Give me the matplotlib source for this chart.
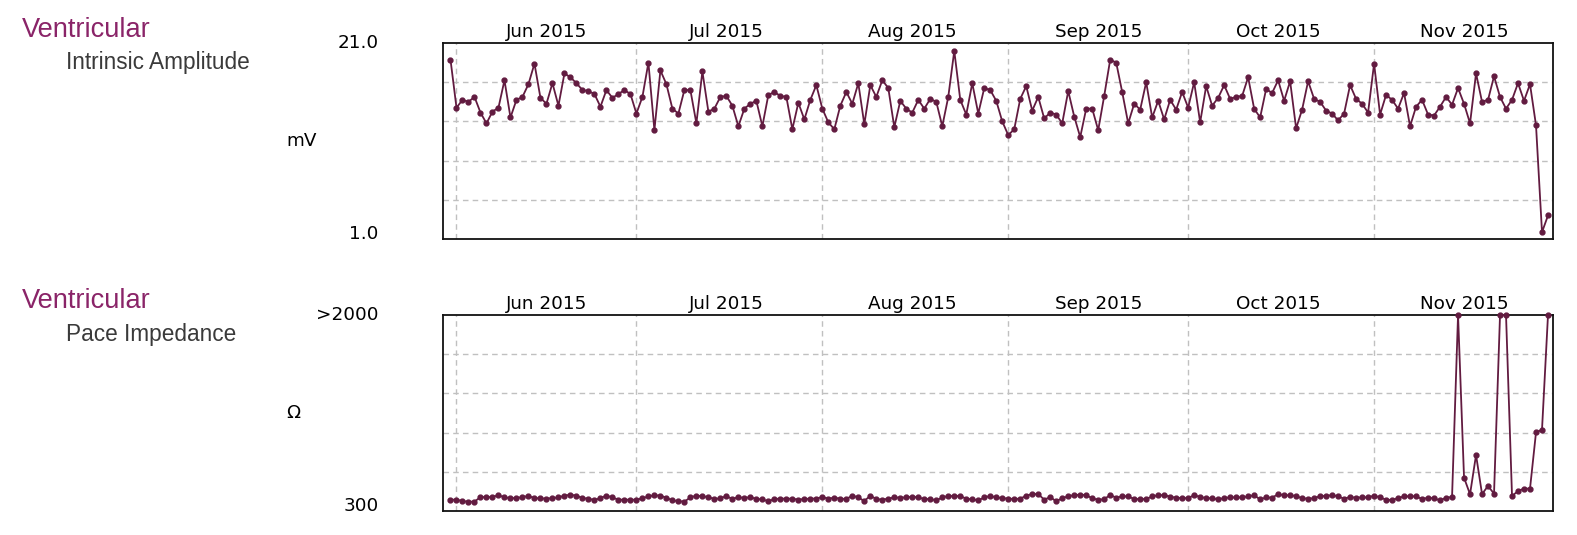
# lead trend charts: ventricular amplitude and impedance

import numpy as np
import pandas as pd
import matplotlib
matplotlib.use('Agg')
import matplotlib.pyplot as plt
import matplotlib.dates as mdates

# daily readings, first reading on 31 May 2015
start_day = '2015-05-31'

amplitude_mv = [
    19.3, 14.4, 15.2, 15.0, 15.5, 13.9, 12.8, 14.0, 14.4, 17.2,
    13.4, 15.2, 15.5, 16.8, 18.9, 15.4, 14.8, 16.9, 14.6, 17.9,
    17.5, 16.9, 16.2, 16.1, 15.8, 14.5, 16.2, 15.4, 15.8, 16.2,
    15.8, 13.8, 15.5, 19.0, 12.1, 18.2, 16.8, 14.3, 13.8, 16.2,
    16.2, 12.8, 18.1, 14.0, 14.3, 15.5, 15.6, 14.6, 12.5, 14.3,
    14.8, 15.1, 12.5, 15.7, 16.0, 15.6, 15.5, 12.2, 14.9, 13.2,
    15.2, 16.7, 14.3, 12.9, 12.2, 14.6, 16.0, 14.8, 16.9, 12.7,
    16.7, 15.5, 17.2, 16.4, 12.4, 15.1, 14.3, 13.9, 15.2, 14.3,
    15.3, 15.0, 12.5, 15.5, 20.2, 15.2, 13.7, 16.9, 13.8, 16.4,
    16.2, 15.1, 13.0, 11.6, 12.2, 15.3, 16.6, 14.1, 15.5, 13.3,
    13.9, 13.7, 12.8, 16.1, 13.5, 11.4, 14.3, 14.3, 12.1, 15.6,
    19.3, 19.0, 16.0, 12.8, 14.8, 14.2, 17.0, 13.4, 15.1, 13.2,
    15.2, 14.2, 16.0, 14.4, 17.0, 12.9, 16.6, 14.6, 15.4, 16.7,
    15.3, 15.5, 15.6, 17.5, 14.3, 13.4, 16.3, 15.9, 17.2, 15.1,
    17.1, 12.3, 14.2, 17.1, 15.3, 15.0, 14.1, 13.8, 13.1, 13.8,
    16.7, 15.3, 14.8, 13.9, 18.9, 13.7, 15.7, 15.2, 14.3, 15.9,
    12.5, 14.5, 15.2, 13.7, 13.6, 14.5, 15.5, 14.7, 16.4, 14.8,
    12.8, 17.9, 15.0, 15.2, 17.6, 15.5, 14.3, 15.2, 16.9, 15.1,
    16.8, 12.6, 1.7, 3.4,
]

# values above 2000 are shown at 2000
impedance_ohm = [
    398, 398, 386, 381, 381, 421, 421, 421, 438, 418,
    412, 412, 421, 430, 412, 410, 407, 412, 418, 433,
    441, 433, 412, 407, 395, 412, 433, 418, 398, 398,
    398, 398, 410, 427, 436, 433, 415, 392, 386, 381,
    418, 433, 427, 421, 404, 410, 430, 404, 421, 412,
    421, 404, 401, 384, 404, 407, 407, 407, 398, 404,
    407, 408, 421, 407, 415, 407, 404, 433, 418, 386,
    433, 404, 398, 407, 418, 415, 418, 424, 418, 404,
    404, 392, 418, 430, 430, 430, 407, 401, 392, 418,
    430, 418, 412, 407, 404, 407, 433, 447, 447, 398,
    421, 384, 412, 427, 438, 441, 438, 410, 398, 401,
    441, 415, 427, 427, 404, 404, 404, 427, 436, 438,
    424, 415, 412, 412, 438, 421, 412, 410, 401, 412,
    418, 418, 418, 427, 436, 401, 418, 415, 447, 436,
    436, 430, 410, 407, 410, 430, 430, 438, 427, 407,
    421, 415, 418, 418, 433, 418, 398, 395, 412, 427,
    427, 427, 404, 415, 410, 392, 415, 421, 2000, 589,
    445, 786, 447, 517, 450, 2000, 2000, 430, 473, 494,
    494, 982, 1005, 2000,
]

amp_limits = [1.0, 21.0]
amp_grid = [5, 9, 13, 17]
amp_labels = ['1.0', '21.0']
imp_limits = [300, 2000]
imp_grid = [640, 980, 1320, 1660]
imp_labels = ['300', '>2000']

days = pd.date_range(start_day, periods=len(amplitude_mv), freq='D')

line_color = '#621b40'
title_color = '#8a2468'
grid_color = '#c0c0c0'
tick_font = 13.2

fig = plt.figure(figsize=(15.77, 5.35), dpi=100)
ax1 = fig.add_axes([443 / 1577, 1 - 239 / 535, 1110 / 1577, 196 / 535])
ax2 = fig.add_axes([443 / 1577, 1 - 511 / 535, 1110 / 1577, 196 / 535])


def style_axis(ax, limits, grid_vals, labels, unit):
    ax.set_xlim(pd.Timestamp('2015-05-29 18:00'), pd.Timestamp('2015-11-30 20:00'))
    ax.set_ylim(limits)
    # month starts carry the grid, mid-month carries the label
    ax.xaxis.set_major_locator(mdates.MonthLocator())
    ax.xaxis.set_major_formatter(plt.NullFormatter())
    ax.xaxis.set_minor_locator(mdates.MonthLocator(bymonthday=16))
    ax.xaxis.set_minor_formatter(mdates.DateFormatter('%b %Y'))
    ax.tick_params(axis='x', which='both', top=False, bottom=False,
                   labeltop=True, labelbottom=False, length=0, pad=1.5,
                   labelsize=tick_font)
    ax.set_yticks(grid_vals)
    ax.set_yticklabels([])
    ax.tick_params(axis='y', length=0)
    ax.grid(True, which='major', color=grid_color, linestyle=(0, (4, 3)), linewidth=1)
    ax.set_axisbelow(True)
    for sp in ax.spines.values():
        sp.set_linewidth(1.3)
        sp.set_color('#111111')
    trans = ax.get_yaxis_transform()
    ax.text(-0.058, limits[0], labels[0], transform=trans, ha='right', va='baseline',
            fontsize=tick_font)
    ax.text(-0.058, limits[1], labels[1], transform=trans, ha='right', va='center',
            fontsize=tick_font)
    ax.text(-0.141, 0.5, unit, transform=ax.transAxes, ha='left', va='center',
            fontsize=tick_font)


style_axis(ax1, amp_limits, amp_grid, amp_labels, 'mV')
style_axis(ax2, imp_limits, imp_grid, imp_labels, '\u03a9')

ax1.plot(days, amplitude_mv, color=line_color, linewidth=1.3, marker='o',
         markersize=3.5, clip_on=False, zorder=3)
ax2.plot(days, impedance_ohm, color=line_color, linewidth=1.3, marker='o',
         markersize=3.5, clip_on=False, zorder=3)

# section titles on the left
title_font = ['Liberation Sans', 'DejaVu Sans']
fig.text(22 / 1577, 1 - 30 / 535, 'Ventricular', color=title_color, fontsize=19.6,
         family=title_font, ha='left', va='center')
fig.text(66 / 1577, 1 - 63 / 535, 'Intrinsic Amplitude', color='#3a3a3a', fontsize=16.3,
         family=title_font, ha='left', va='center')
fig.text(22 / 1577, 1 - 301 / 535, 'Ventricular', color=title_color, fontsize=19.6,
         family=title_font, ha='left', va='center')
fig.text(66 / 1577, 1 - 334 / 535, 'Pace Impedance', color='#3a3a3a', fontsize=16.3,
         family=title_font, ha='left', va='center')

fig.savefig('out.png', dpi=100)
